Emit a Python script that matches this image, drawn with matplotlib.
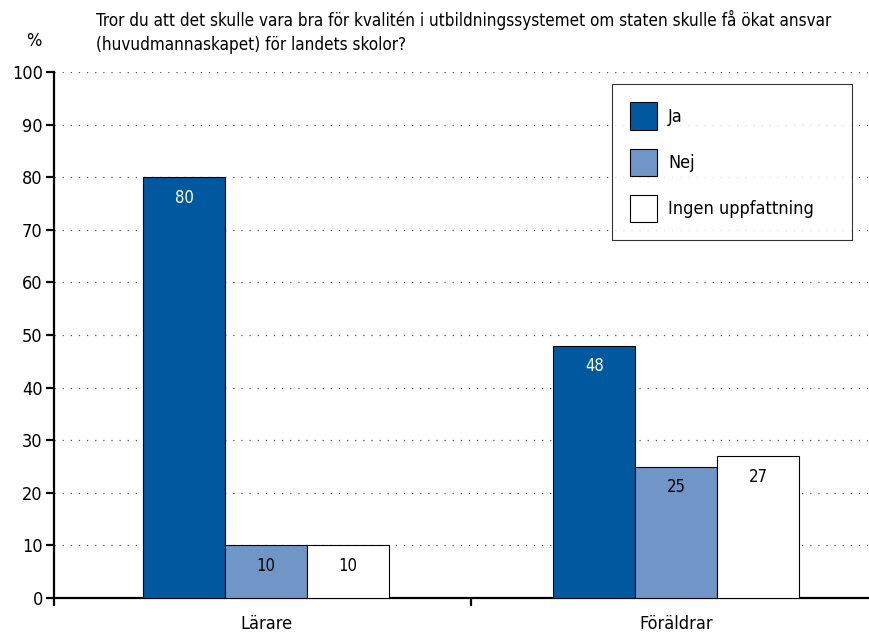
import matplotlib
matplotlib.use("Agg")
import matplotlib.pyplot as plt
import numpy as np

categories = ["Lärare", "Föräldrar"]
series = ["Ja", "Nej", "Ingen uppfattning"]
ja = [80, 48]
nej = [10, 25]
ingen = [10, 27]
yticks = [0, 10, 20, 30, 40, 50, 60, 70, 80, 90, 100]
title = ("Tror du att det skulle vara bra för kvalitén i utbildningssystemet om staten skulle få ökat ansvar\n"
         "(huvudmannaskapet) för landets skolor?")

plt.rcParams['font.family'] = ['DejaVu Sans']
plt.rcParams['font.stretch'] = 'condensed'

fig = plt.figure(figsize=(8.7, 6.33), dpi=100)
ax = fig.add_axes([0.062, 0.0553, 0.936, 0.8307])

colors = ["#00589f", "#7096c8", "#ffffff"]
vals = [ja, nej, ingen]
x = np.arange(len(categories))
w = 0.2
for i, (v, c, name) in enumerate(zip(vals, colors, series)):
    bars = ax.bar(x + (i - 1) * w, v, width=w, color=c, edgecolor="black",
                  linewidth=0.8, label=name, zorder=3)
    for b, val in zip(bars, v):
        ax.text(b.get_x() + b.get_width() / 2, val - 2.2, f"{val}",
                ha="center", va="top", fontsize=12,
                color="white" if i == 0 else "black", zorder=4)

ax.set_xlim(-0.517, 1.468)
ax.set_ylim(0, 100)
ax.set_yticks(yticks)
ax.set_yticklabels([str(t) for t in yticks], fontsize=13)
ax.set_xticks([0.5, -0.517])
ax.set_xticklabels(["", ""])
for i, c in enumerate(categories):
    ax.text(x[i], -3.3, c, ha="center", va="top", fontsize=13,
            transform=ax.transData)
for yv in yticks[1:]:
    ax.axhline(yv, color="#555555", linestyle=(0, (1, 5.5)), linewidth=0.9, zorder=1)

for s in ["top", "right"]:
    ax.spines[s].set_visible(False)
ax.spines["left"].set_linewidth(1.6)
ax.spines["bottom"].set_linewidth(1.6)
ax.tick_params(axis="y", length=6, width=1.6, pad=2)
ax.tick_params(axis="x", length=6, width=1.6)

leg = ax.legend(loc="upper left", bbox_to_anchor=(0.6855, 0.684, 0.2948, 0.293),
                mode="expand", fontsize=13,
                frameon=True, fancybox=False, edgecolor="black",
                handlelength=1.5, handleheight=1.95, borderpad=1.0,
                labelspacing=1.05, handletextpad=0.6, borderaxespad=0)
leg.get_frame().set_linewidth(0.8)
leg.set_zorder(5)

fig.text(0.11, 0.985, title, ha="left", va="top", fontsize=12.25, linespacing=1.45)
fig.text(0.03, 0.935, "%", ha="left", va="center", fontsize=13)

fig.savefig("out.png", dpi=100)
